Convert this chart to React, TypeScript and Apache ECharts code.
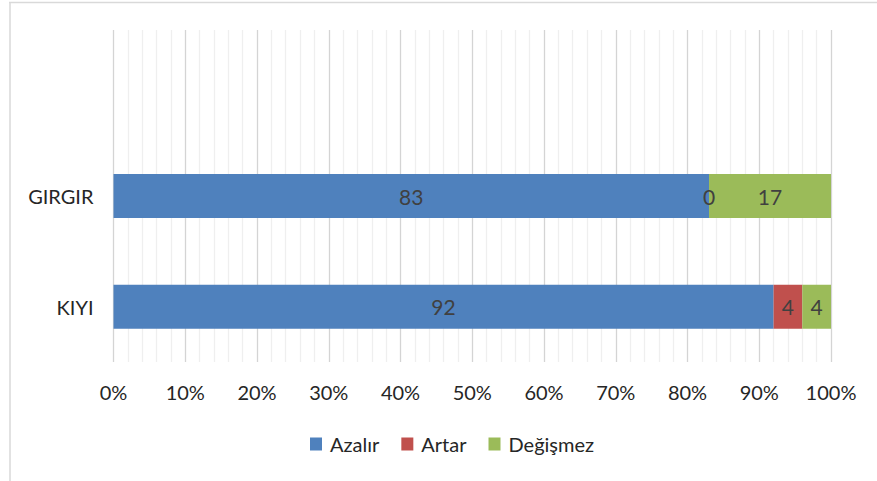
import React, { useEffect, useRef } from "react";
import * as echarts from "echarts";

const categories = ["KIYI", "GIRGIR", ""];
const seriesNames = ["Azalır", "Artar", "Değişmez"];
const azalir = [92, 83, null];
const artar = [4, 0, null];
const degismez = [4, 17, null];
const colors = ["#4F81BD", "#C0504D", "#9BBB59"];
const FONT = "Lato";

export default function App() {
  const ref = useRef<HTMLDivElement>(null);
  useEffect(() => {
    document.body.style.margin = "0";
    const chart = echarts.init(ref.current!, null, { renderer: "svg" });
    const values = [azalir, artar, degismez];
    chart.setOption({
      animation: false,
      backgroundColor: "#ffffff",
      textStyle: { fontFamily: FONT },
      graphic: [
        { type: "line", shape: { x1: 9, y1: 2.5, x2: 877, y2: 2.5 }, style: { stroke: "#d9d9d9", lineWidth: 1.5 } },
        { type: "line", shape: { x1: 10, y1: 2, x2: 10, y2: 481 }, style: { stroke: "#d9d9d9", lineWidth: 1.5 } },
      ],
      legend: {
        data: seriesNames,
        left: 305,
        top: 429,
        itemWidth: 12,
        itemHeight: 13,
        itemGap: 22,
        icon: "rect",
        textStyle: { fontFamily: FONT, fontSize: 20, color: "#262626", padding: [0, 0, 0, 3] },
      },
      grid: { left: 113.5, right: 46, top: 30, bottom: 119, containLabel: false },
      xAxis: {
        type: "value",
        min: 0,
        max: 100,
        interval: 10,
        axisLine: { show: false },
        axisTick: { show: false },
        axisLabel: { formatter: "{value}%", fontFamily: FONT, fontSize: 20, color: "#262626", margin: 20 },
        splitLine: { show: true, lineStyle: { color: "#d4d4d4", width: 1.3 } },
        minorTick: { show: false, splitNumber: 5 },
        minorSplitLine: { show: true, lineStyle: { color: "#efefef", width: 1.3 } },
      },
      yAxis: {
        type: "category",
        data: categories,
        axisLine: { show: false },
        axisTick: { show: false },
        splitLine: { show: false },
        axisLabel: { fontFamily: FONT, fontSize: 20, color: "#262626", margin: 20 },
      },
      series: seriesNames.map((name, i) => ({
        name,
        type: "bar",
        stack: "total",
        barWidth: 44,
        data: values[i],
        itemStyle: { color: colors[i] },
        label: {
          show: true,
          position: "inside",
          fontFamily: FONT,
          fontSize: 21,
          color: "#404040",
        },
      })),
    });
    return () => chart.dispose();
  }, []);
  return (
    <div
      ref={ref}
      style={{ position: "absolute", left: 0, top: 0, width: 877, height: 481 }}
    />
  );
}
